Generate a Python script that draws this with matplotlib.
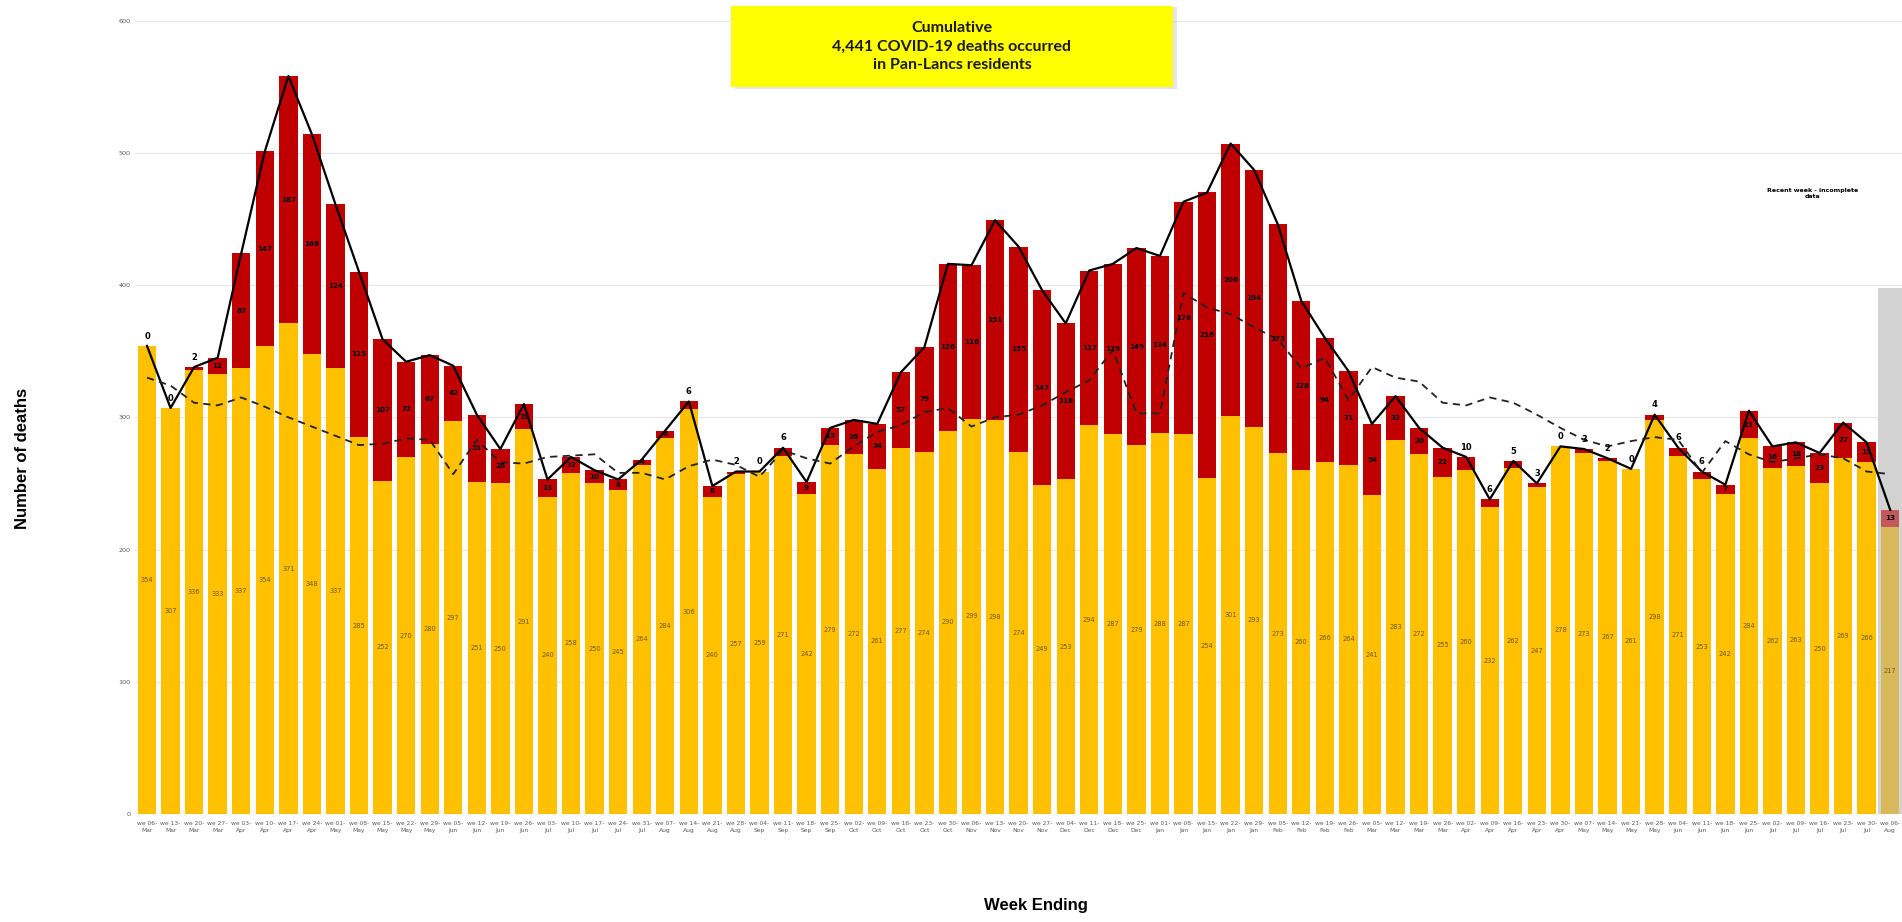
import numpy as np
import matplotlib.pyplot as plt
from matplotlib.patches import Rectangle

# week ending labels
week_labels = [
    "06-Mar", "13-Mar", "20-Mar", "27-Mar", "03-Apr", "10-Apr", "17-Apr", "24-Apr",
    "01-May", "08-May", "15-May", "22-May", "29-May", "05-Jun", "12-Jun", "19-Jun",
    "26-Jun", "03-Jul", "10-Jul", "17-Jul", "24-Jul", "31-Jul", "07-Aug", "14-Aug",
    "21-Aug", "28-Aug", "04-Sep", "11-Sep", "18-Sep", "25-Sep", "02-Oct", "09-Oct",
    "16-Oct", "23-Oct", "30-Oct", "06-Nov", "13-Nov", "20-Nov", "27-Nov", "04-Dec",
    "11-Dec", "18-Dec", "25-Dec", "01-Jan", "08-Jan", "15-Jan", "22-Jan", "29-Jan",
    "05-Feb", "12-Feb", "19-Feb", "26-Feb", "05-Mar", "12-Mar", "19-Mar", "26-Mar",
    "02-Apr", "09-Apr", "16-Apr", "23-Apr", "30-Apr", "07-May", "14-May", "21-May",
    "28-May", "04-Jun", "11-Jun", "18-Jun", "25-Jun", "02-Jul", "09-Jul", "16-Jul",
    "23-Jul", "30-Jul", "06-Aug",
]

# non-COVID deaths (yellow)
non_covid = [
    354, 307, 336, 333, 337, 354, 371, 348, 337, 285, 252, 270, 280, 297, 251, 250,
    291, 240, 258, 250, 245, 264, 284, 306, 240, 257, 259, 271, 242, 279, 272, 261,
    277, 274, 290, 299, 298, 274, 249, 253, 294, 287, 279, 288, 287, 254, 301, 293,
    273, 260, 266, 264, 241, 283, 272, 255, 260, 232, 262, 247, 278, 273, 267, 261,
    298, 271, 253, 242, 284, 262, 263, 250, 269, 266, 217,
]

# COVID-19 deaths (red)
covid = [
    0, 0, 2, 12, 87, 147, 187, 166, 124, 125, 107, 72, 67, 42, 51, 26,
    19, 13, 12, 10, 8, 4, 6, 6, 8, 2, 0, 6, 9, 13, 26, 34,
    57, 79, 126, 116, 151, 155, 147, 118, 117, 129, 149, 134, 176, 216, 206, 194,
    173, 128, 94, 71, 54, 33, 20, 22, 10, 6, 5, 3, 0, 3, 2, 0,
    4, 6, 6, 7, 21, 16, 18, 23, 27, 15, 13,
]

# average of previous years (dashed)
prev_avg = [
    330, 324, 311, 309, 315, 308, 300, 293, 286, 279, 280, 284, 283, 257, 283, 266,
    265, 270, 271, 272, 258, 258, 253, 263, 268, 264, 255, 275, 269, 265, 278, 289,
    294, 304, 307, 293, 300, 302, 309, 319, 328, 351, 303, 303, 394, 383, 378, 368,
    359, 337, 345, 313, 338, 330, 327, 311, 309, 315, 311, 302, 292, 283, 278, 282,
    285, 283, 258, 282, 272, 266, 269, 272, 269, 259, 257,
]

x = np.arange(len(week_labels))
yellow = np.array(non_covid)
red = np.array(covid)
total = yellow + red

fig = plt.figure(figsize=(19.02, 9.22), dpi=100)
ax = fig.add_axes([0.0711, 0.1171, 0.9289, 0.8606])

bar_w = 0.78
ycol = ["#FFC000"] * (len(x) - 1) + ["#D9B85C"]
rcol = ["#C00000"] * (len(x) - 1) + ["#C4585A"]

# grey shading for the incomplete week
ax.bar(x[-1], 398, width=1.05, color="#D3D3D3", zorder=1)
ax.bar(x, yellow, width=bar_w, color=ycol, zorder=2)
ax.bar(x, red, width=bar_w, bottom=yellow, color=rcol, zorder=2)

ax.plot(x, total, color="black", lw=1.6, zorder=4)
ax.plot(x, prev_avg, color="#222222", lw=1.3, ls=(0, (4, 3)), zorder=4)

# labels
inside_small = {21, 22, 67}
for i in x:
    ax.text(i, yellow[i] / 2, str(yellow[i]), ha="center", va="center",
            fontsize=4.8, color="#6b5a2a", zorder=5)
    if red[i] < 7 and i not in inside_small or i == 56:
        ax.text(i, total[i] + 4, str(red[i]), ha="center", va="bottom",
                fontsize=6, fontweight="bold", color="black", zorder=5)
    else:
        ax.text(i, yellow[i] + red[i] / 2, str(red[i]), ha="center", va="center",
                fontsize=5.2, fontweight="bold", color="black", zorder=5)

ax.text(70.7, 469, "Recent week - incomplete\ndata", ha="center", va="center",
        fontsize=4.5, fontweight="bold", color="black", linespacing=1.3)

ax.set_xlim(-0.5, 74.5)
ax.set_ylim(0, 600)
ax.set_yticks(range(0, 601, 100))
ax.set_xticks(x)
ax.set_xticklabels(["we " + w.replace("-", "-\n") for w in week_labels],
                   fontsize=4.3, color="#595959", linespacing=1.5)
ax.tick_params(axis="both", length=0, labelsize=4.6, colors="#595959")
ax.tick_params(axis="x", pad=5, labelsize=4.3)
ax.grid(axis="y", color="#e6e6e6", lw=0.8, zorder=0)
ax.set_axisbelow(True)
for s in ax.spines.values():
    s.set_visible(False)

fig.text(0.0116, 0.503, "Number of deaths", rotation=90, ha="center", va="center",
         fontsize=12, fontweight="bold", family="Liberation Sans")
fig.text(0.5447, 0.018, "Week Ending", ha="center", va="center",
         fontsize=12, fontweight="bold", family="Liberation Sans")

# title box
fig.patches.append(Rectangle((0.3863, 0.9040), 0.2324, 0.0879, transform=fig.transFigure,
                             facecolor="#cccccc", edgecolor="none", alpha=0.5, zorder=9))
fig.patches.append(Rectangle((0.3843, 0.9056), 0.2324, 0.0879, transform=fig.transFigure,
                             facecolor="#FFFF00", edgecolor="none", zorder=10))
fig.text(0.5005, 0.9496, "Cumulative\n4,441 COVID-19 deaths occurred\nin Pan-Lancs residents",
         ha="center", va="center", fontsize=11.5, fontweight="bold", family="Lato",
         color="#1a1a1a", linespacing=1.4, zorder=11)

fig.savefig("out.png", dpi=100)
